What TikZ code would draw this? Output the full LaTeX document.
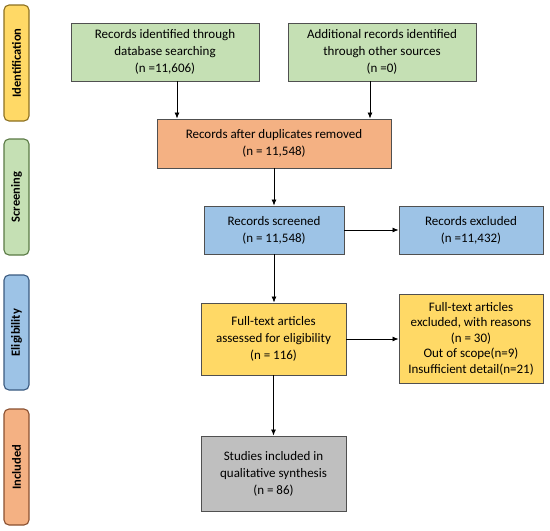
\documentclass[tikz,border=0pt]{standalone}
\usepackage{fontspec}
\setmainfont{Carlito}
\usetikzlibrary{arrows.meta,calc}
\definecolor{cgreen}{HTML}{C5E0B4}
\definecolor{corange}{HTML}{F4B183}
\definecolor{cblue}{HTML}{9DC3E6}
\definecolor{cyellow}{HTML}{FFD966}
\definecolor{cgrey}{HTML}{BFBFBF}
\definecolor{cborder}{HTML}{505050}
\definecolor{dyellow}{HTML}{8C7020}
\definecolor{dgreen}{HTML}{5A7A45}
\definecolor{dblue}{HTML}{3A5A80}
\definecolor{dorange}{HTML}{8A5030}
\begin{document}
\begin{tikzpicture}[x=1pt,y=-1pt,
  box/.style={draw=cborder,line width=0.9pt,align=center,inner sep=1pt,
    font=\fontsize{13}{17}\selectfont},
  tab/.style={rounded corners=5pt,line width=1.1pt,minimum width=25,
    align=center,inner sep=0pt},
  tablabel/.style={rotate=90,font=\fontsize{12.5}{14}\selectfont\bfseries},
  arr/.style={draw=black,line width=0.8pt,-{Latex[length=6pt,width=5pt]}}]
\useasboundingbox (0,0) rectangle (550,531);
% phase tabs
\node[tab,fill=cyellow,draw=dyellow,minimum height=116] (t1) at (16.5,63) {};
\node[tablabel] (l1) at (t1.center) {Identification};
\node[tab,fill=cgreen,draw=dgreen,minimum height=116] (t2) at (16.5,197) {};
\node[tablabel] (l2) at (t2.center) {Screening};
\node[tab,fill=cblue,draw=dblue,minimum height=115] (t3) at (16.5,332.5) {};
\node[tablabel] (l3) at (t3.center) {Eligibility};
\node[tab,fill=corange,draw=dorange,minimum height=116] (t4) at (16.5,467) {};
\node[tablabel] (l4) at (t4.center) {Included};
% boxes
\node[box,fill=cgreen,minimum width=188,minimum height=58] (A) at (165,52)
  {Records identified through\\database searching\\(n =11,606)};
\node[box,fill=cgreen,minimum width=188,minimum height=58] (B) at (382,52)
  {Additional records identified\\through other sources\\(n =0)};
\node[box,fill=corange,minimum width=234,minimum height=49] (C) at (274,143.5)
  {Records after duplicates removed\\(n = 11,548)};
\node[box,fill=cblue,minimum width=140,minimum height=48] (D) at (274,230)
  {Records screened\\(n = 11,548)};
\node[box,fill=cblue,minimum width=144,minimum height=48] (E) at (471,230)
  {Records excluded\\(n =11,432)};
\node[box,fill=cyellow,minimum width=145,minimum height=72] (F) at (273.5,339)
  {Full-text articles\\assessed for eligibility\\(n = 116)};
\node[box,fill=cyellow,minimum width=144,minimum height=89,
  font=\fontsize{13}{15.5}\selectfont] (G) at (471,338.5)
  {Full-text articles\\excluded, with reasons\\(n = 30)\\Out of scope(n=9)\\Insufficient detail(n=21)};
\node[box,fill=cgrey,minimum width=145,minimum height=75] (H) at (273.5,473.5)
  {Studies included in\\qualitative synthesis\\(n = 86)};
% connectors
\coordinate (xa) at (177,0);
\coordinate (xb) at (370,0);
\draw[arr] (A.south -| xa) -- (C.north -| xa);
\draw[arr] (B.south -| xb) -- (C.north -| xb);
\draw[arr] (C.south -| D.north) -- (D.north);
\draw[arr] (D.east) -- (E.west);
\draw[arr] (D.south) -- (D.south |- F.north);
\draw[arr] (F.east) -- (F.east -| G.west);
\draw[arr] (F.south) -- (H.north);
\end{tikzpicture}
\end{document}
